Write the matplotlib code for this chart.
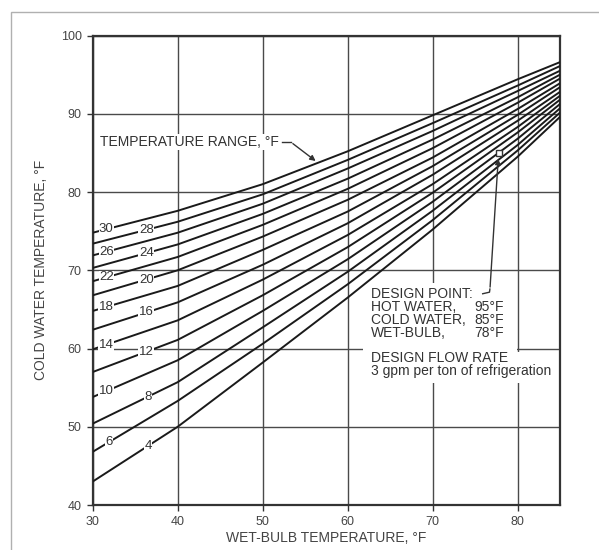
import matplotlib.pyplot as plt
from matplotlib.patches import Rectangle
import numpy as np

plt.rcParams['font.family'] = ['Liberation Sans', 'DejaVu Sans']

# wet-bulb points where the curves were read
wet_bulb = [30, 40, 50, 60, 70, 80, 85]

# cold water temperature for each range (deg F)
ranges = [4, 6, 8, 10, 12, 14, 16, 18, 20, 22, 24, 26, 28, 30]
cold_4 = [43.0, 50.0, 58.2, 66.5, 75.2, 84.5, 89.6]
cold_6 = [46.8, 53.3, 60.6, 68.2, 76.4, 85.3, 90.15]
cold_8 = [50.4, 55.7, 62.7, 69.8, 77.6, 86.0, 90.7]
cold_10 = [53.8, 58.5, 64.8, 71.4, 78.75, 86.8, 91.25]
cold_12 = [57.0, 61.1, 66.8, 72.95, 79.9, 87.6, 91.8]
cold_14 = [59.9, 63.6, 68.8, 74.5, 81.0, 88.3, 92.3]
cold_16 = [62.4, 65.9, 70.7, 76.0, 82.2, 89.1, 92.8]
cold_18 = [64.8, 68.0, 72.6, 77.5, 83.3, 89.85, 93.4]
cold_20 = [66.8, 70.0, 74.3, 79.0, 84.4, 90.6, 93.9]
cold_22 = [68.6, 71.7, 75.8, 80.4, 85.6, 91.4, 94.5]
cold_24 = [70.3, 73.3, 77.2, 81.7, 86.7, 92.1, 95.0]
cold_26 = [71.9, 74.8, 78.5, 83.0, 87.8, 92.9, 95.5]
cold_28 = [73.4, 76.2, 79.7, 84.1, 88.8, 93.6, 96.1]
cold_30 = [74.8, 77.6, 81.0, 85.2, 89.8, 94.4, 96.6]
curves = [cold_4, cold_6, cold_8, cold_10, cold_12, cold_14, cold_16,
          cold_18, cold_20, cold_22, cold_24, cold_26, cold_28, cold_30]

# where each range number is written along its curve
label_x = {30: 31.6, 26: 31.6, 22: 31.6, 18: 31.6, 14: 31.6, 10: 31.6, 6: 31.9,
           28: 36.3, 24: 36.3, 20: 36.3, 16: 36.3, 12: 36.3, 8: 36.5, 4: 36.5}

design_wb = 77.8
design_cw = 85.0

txt = '#333333'

fig = plt.figure(figsize=(5.99, 5.5), dpi=100)
ax = fig.add_axes([0.1548, 0.0818, 0.7801, 0.8536])

# light frame around the whole picture
fig.patches.append(Rectangle((11 / 599, -0.05), 1.0, 1.05 - 11.7 / 550,
                             transform=fig.transFigure, fill=False,
                             edgecolor='#b0b0b0', linewidth=1.0))

ax.set_xlim(30, 85)
ax.set_ylim(40, 100)
ax.set_xticks([30, 40, 50, 60, 70, 80])
ax.set_yticks([40, 50, 60, 70, 80, 90, 100])
ax.grid(True, color='#4a4a4a', linewidth=1.0)
ax.set_axisbelow(True)
for s in ax.spines.values():
    s.set_linewidth(1.6)
    s.set_color('#333333')
ax.tick_params(length=4.5, width=1.0, color='#333333', labelsize=9,
               labelcolor='#444444', pad=3.5)

for r, c in zip(ranges, curves):
    ax.plot(wet_bulb, c, color='#1a1a1a', linewidth=1.4, zorder=3)
    lx = label_x[r]
    ly = np.interp(lx, wet_bulb, c)
    ax.text(lx, ly, str(r), fontsize=9.5, color=txt, ha='center', va='center',
            zorder=4, bbox=dict(facecolor='white', edgecolor='none', pad=0.3))

# white boxes behind the design notes
ax.add_patch(Rectangle((61.8, 59.45), 18.1, 8.95, facecolor='white',
                       edgecolor='none', zorder=2))
ax.add_patch(Rectangle((61.8, 55.6), 22.8, 3.9, facecolor='white',
                       edgecolor='none', zorder=2))

fs = 10
ax.text(62.8, 67.0, 'DESIGN POINT:', fontsize=fs, color=txt, va='center', zorder=5)
ax.text(62.8, 65.3, 'HOT WATER,', fontsize=fs, color=txt, va='center', zorder=5)
ax.text(62.8, 63.65, 'COLD WATER,', fontsize=fs, color=txt, va='center', zorder=5)
ax.text(62.8, 62.0, 'WET-BULB,', fontsize=fs, color=txt, va='center', zorder=5)
ax.text(74.9, 65.3, '95°F', fontsize=fs, color=txt, va='center', zorder=5)
ax.text(74.9, 63.65, '85°F', fontsize=fs, color=txt, va='center', zorder=5)
ax.text(74.9, 62.0, '78°F', fontsize=fs, color=txt, va='center', zorder=5)
ax.text(62.8, 58.8, 'DESIGN FLOW RATE', fontsize=fs, color=txt, va='center', zorder=5)
ax.text(62.8, 57.1, '3 gpm per ton of refrigeration', fontsize=fs, color=txt,
        va='center', zorder=5)

# design point marker and leader
ax.plot([design_wb], [design_cw], marker='s', markersize=4, markerfacecolor='white',
        markeredgecolor='#333333', zorder=6)
ax.plot([75.9, 76.7, 76.75], [67.0, 67.2, 67.6], color='#333333', linewidth=1.0, zorder=6)
ax.annotate('', xy=(design_wb - 0.05, design_cw - 0.4), xytext=(76.75, 67.5),
            arrowprops=dict(arrowstyle='-|>', color='#333333', lw=1.0,
                            mutation_scale=8), zorder=6)

# temperature range callout
ax.text(30.9, 86.4, 'TEMPERATURE RANGE, °F', fontsize=fs, color=txt, va='center',
        zorder=5, bbox=dict(facecolor='white', edgecolor='none', pad=0.5))
ax.plot([52.3, 53.3], [86.4, 86.4], color='#333333', linewidth=1.0, zorder=5)
ax.annotate('', xy=(56.5, 83.75), xytext=(53.3, 86.4),
            arrowprops=dict(arrowstyle='-|>', color='#333333', lw=1.0,
                            mutation_scale=8), zorder=5)

ax.set_xlabel('WET-BULB TEMPERATURE, °F', fontsize=fs, color='#444444', labelpad=2)
ax.set_ylabel('COLD WATER TEMPERATURE, °F', fontsize=fs, color='#444444', labelpad=9)

fig.savefig('out.png', dpi=100)
